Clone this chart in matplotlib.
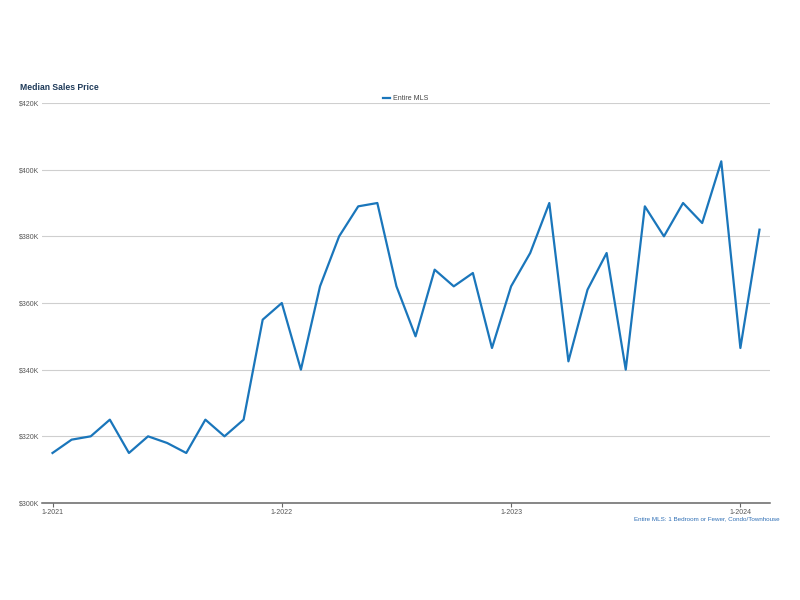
import matplotlib
matplotlib.use("Agg")
import matplotlib.pyplot as plt

plt.rcParams["font.family"] = ["Liberation Sans", "DejaVu Sans"]

# 月次データ (2021-01 〜 2024-02)、単位: 千ドル
months = list(range(38))
prices = [
    315, 319, 320, 325, 315, 320, 318, 315, 325, 320, 325, 355,
    360, 340, 365, 380, 389, 390, 365, 350, 370, 365, 369, 346.5,
    365, 375, 390, 342.5, 364, 375, 340, 389, 380, 390, 384, 402.5,
    346.5, 382,
]
tick_pos = [0, 12, 24, 36]
tick_labels = ["1-2021", "1-2022", "1-2023", "1-2024"]
y_ticks = [300, 320, 340, 360, 380, 400, 420]

fig = plt.figure(figsize=(8, 6), dpi=100)
ax = fig.add_axes([0.0525, 0.1617, 0.91, 0.6666])

ax.plot(months, prices, color="#1a76bb", linewidth=1.6, label="Entire MLS")

ax.set_xlim(-0.55, 37.55)
ax.set_ylim(300, 420)
ax.set_yticks(y_ticks)
ax.set_yticklabels([f"${v}K" for v in y_ticks])
ax.set_xticks(tick_pos)
ax.set_xticklabels(tick_labels)

ax.grid(axis="y", color="#cfcfcf", linewidth=0.8)
ax.set_axisbelow(True)
for s in ["top", "right", "left"]:
    ax.spines[s].set_visible(False)
ax.spines["bottom"].set_color("#666666")
ax.spines["bottom"].set_linewidth(1.1)

ax.tick_params(axis="y", length=0, labelsize=5, labelcolor="#555555", pad=2)
ax.tick_params(axis="x", length=3, color="#666666", labelsize=5, labelcolor="#555555", pad=1.5)

fig.text(0.025, 0.855, "Median Sales Price", fontsize=6.2, fontweight="bold",
         color="#1f3b5a", va="center")

leg = ax.legend(loc="lower center", bbox_to_anchor=(0.5, 0.995), frameon=False,
                fontsize=5, handlelength=1.0, handletextpad=0.4, borderaxespad=0)
for t in leg.get_texts():
    t.set_color("#444444")

fig.text(0.975, 0.136, "Entire MLS: 1 Bedroom or Fewer, Condo/Townhouse",
         fontsize=4.5, color="#2f6fb5", ha="right", va="center")

fig.savefig("out.png", dpi=100)
